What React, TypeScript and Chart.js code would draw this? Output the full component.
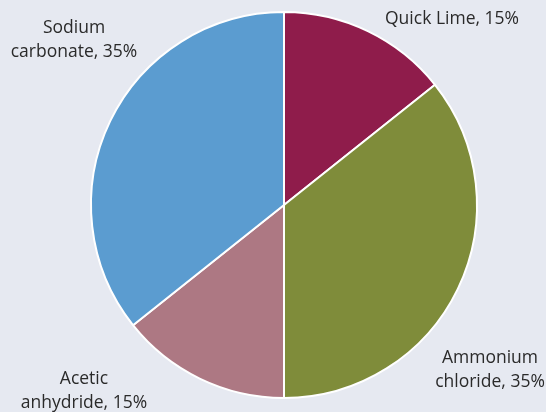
import React, { useEffect, useRef } from "react";
import { Chart, registerables } from "chart.js";

Chart.register(...registerables);

const categories = ["Quick Lime", "Ammonium chloride", "Acetic anhydride", "Sodium carbonate"];
const values = [14.3, 35.7, 14.3, 35.7];
const colors = ["#8f1c4b", "#7f8c3a", "#ad7883", "#5b9cd0"];
const labelLines = [
  ["Quick Lime, 15%"],
  ["Ammonium", "chloride, 35%"],
  ["Acetic", "anhydride, 15%"],
  ["Sodium", "carbonate, 35%"],
];
const labelAnchors = [
  { x: 452, y: 19 },
  { x: 490, y: 358 },
  { x: 84, y: 379 },
  { x: 74, y: 28 },
];

const BG = "#e6e9f1";

export default function App() {
  const ref = useRef<HTMLCanvasElement | null>(null);
  useEffect(() => {
    document.body.style.margin = "0";
    const labelPlugin = {
      id: "outLabels",
      afterDraw(chart: any) {
        const ctx = chart.ctx;
        ctx.save();
        ctx.font = "17.5px 'Open Sans', 'Noto Sans', sans-serif";
        ctx.fillStyle = "#2a2a2a";
        ctx.textAlign = "center";
        ctx.textBaseline = "middle";
        labelLines.forEach((lines, i) => {
          const a = labelAnchors[i];
          lines.forEach((t, j) => ctx.fillText(t, a.x, a.y + j * 24));
        });
        ctx.restore();
      },
    };
    const chart = new Chart(ref.current!, {
      type: "pie",
      data: {
        labels: categories,
        datasets: [
          {
            data: values,
            backgroundColor: colors,
            borderColor: "#ffffff",
            borderWidth: 2,
          },
        ],
      },
      options: {
        responsive: false,
        animation: false,
        layout: { padding: { top: 11, bottom: 13, left: 90, right: 68 } },
        plugins: { legend: { display: false }, tooltip: { enabled: false } },
      },
      plugins: [labelPlugin],
    });
    return () => chart.destroy();
  }, []);
  return (
    <div style={{ position: "fixed", left: 0, top: 0, width: 546, height: 412, background: BG }}>
      <canvas ref={ref} width={546} height={412} />
    </div>
  );
}
